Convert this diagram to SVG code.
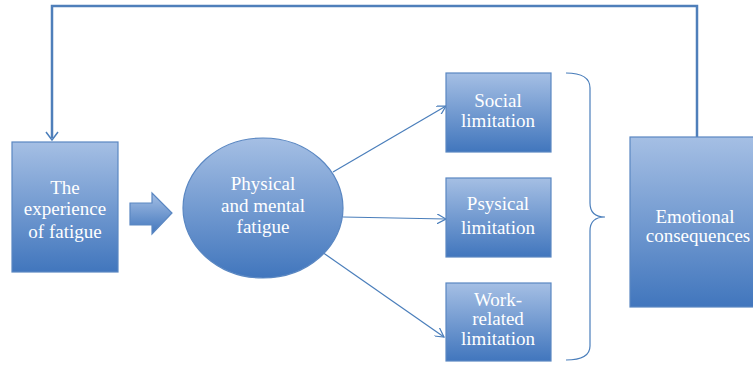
<svg xmlns="http://www.w3.org/2000/svg" width="753" height="366" viewBox="0 0 753 366">
<defs>
<linearGradient id="g" x1="0" y1="0" x2="0" y2="1">
<stop offset="0" stop-color="#a5bfe4"/>
<stop offset="1" stop-color="#4176bd"/>
</linearGradient>
<marker id="ah" viewBox="0 0 10 10" refX="9" refY="5" markerWidth="10" markerHeight="10" orient="auto" markerUnits="userSpaceOnUse">
<path d="M0,0 L9,5 L0,10" fill="none" stroke="#4a7ebb" stroke-width="1.2"/>
</marker>
</defs>
<style>
.n{fill:url(#g);stroke:#5a87c2;stroke-width:1.2}
.t{font-family:"Liberation Serif",serif;font-size:19px;fill:#ffffff;text-anchor:middle}
.c{fill:none;stroke:#4a7ebb;stroke-width:1.2}
.fb{fill:none;stroke:#4f7fba;stroke-width:2.5}
</style>
<rect width="753" height="366" fill="#ffffff"/>
<g id="connectors">
<path class="fb" d="M697,137 V6 H52 V138"/>
<path d="M46,132 L52,140 L58,132" fill="none" stroke="#4a7ebb" stroke-width="1.5"/>
<line class="c" x1="333" y1="172" x2="446" y2="106" marker-end="url(#ah)"/>
<line class="c" x1="343" y1="217" x2="446" y2="219" marker-end="url(#ah)"/>
<line class="c" x1="322" y1="252" x2="444" y2="337" marker-end="url(#ah)"/>
<path class="c" d="M566,73 Q590,73 590,88 V203 Q590,217 605,217 Q590,217 590,231 V346 Q590,360 566,360" stroke-width="1.5"/>
</g>
<g id="experience">
<rect class="n" x="12" y="142" width="106" height="130"/>
<text class="t" x="65" y="194">The</text>
<text class="t" x="65" y="215">experience</text>
<text class="t" x="65" y="238">of fatigue</text>
</g>
<g id="blockarrow">
<path class="n" d="M130,203 H152 V193 L172,213 L152,234 V225 H130 Z"/>
</g>
<g id="fatigue">
<ellipse class="n" cx="263" cy="208" rx="80" ry="70"/>
<text class="t" x="263" y="190">Physical</text>
<text class="t" x="263" y="212">and mental</text>
<text class="t" x="263" y="233">fatigue</text>
</g>
<g id="social">
<rect class="n" x="446" y="73" width="105" height="79"/>
<text class="t" x="498" y="107">Social</text>
<text class="t" x="498" y="127">limitation</text>
</g>
<g id="psysical">
<rect class="n" x="446" y="178" width="105" height="79"/>
<text class="t" x="498" y="210">Psysical</text>
<text class="t" x="498" y="234">limitation</text>
</g>
<g id="work">
<rect class="n" x="446" y="283" width="105" height="78"/>
<text class="t" x="498" y="306">Work-</text>
<text class="t" x="498" y="325">related</text>
<text class="t" x="498" y="345">limitation</text>
</g>
<g id="emotional">
<rect class="n" x="630" y="137" width="130" height="170"/>
<text class="t" x="695" y="223">Emotional</text>
<text class="t" x="698" y="242">consequences</text>
</g>
</svg>
